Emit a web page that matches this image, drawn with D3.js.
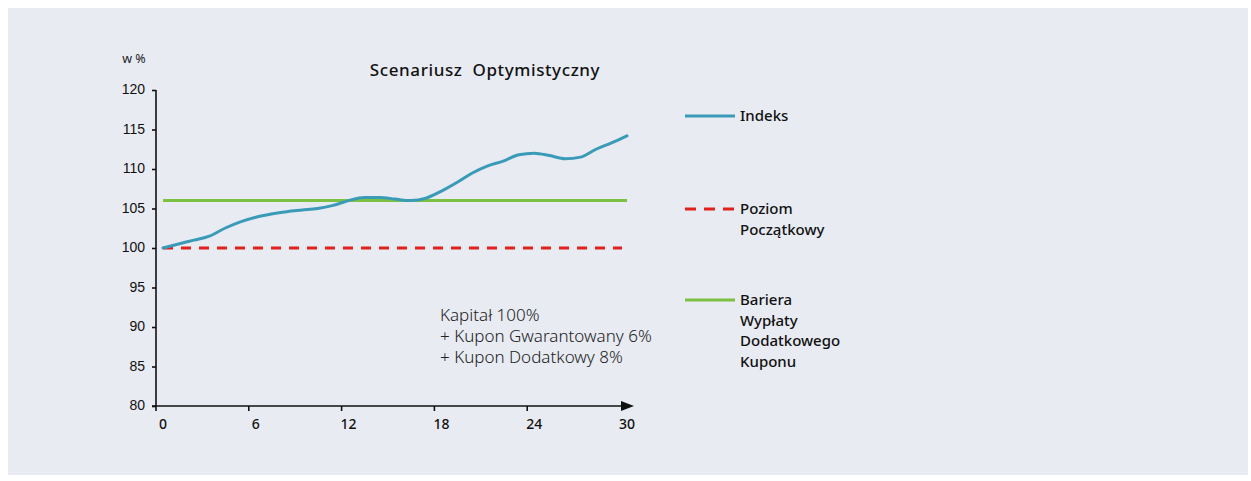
<!DOCTYPE html>
<html>
<head>
<meta charset="utf-8">
<script src="https://cdn.jsdelivr.net/npm/d3@7"></script>
<style>
  body { margin: 0; background: #ffffff; }
  svg { display: block; font-family: "Noto Sans", "Open Sans", sans-serif; }
</style>
</head>
<body>
<svg id="chart" width="1251" height="481"></svg>
<script>
// months 0..30
const months = d3.range(0, 31)
// index level, w %
const indexValues = [100.0, 100.5, 101.0, 101.5, 102.5, 103.3, 103.9, 104.3, 104.6, 104.8,
  105.0, 105.4, 106.0, 106.4, 106.4, 106.2, 106.0, 106.3, 107.2, 108.3,
  109.5, 110.4, 111.0, 111.8, 112.0, 111.7, 111.3, 111.5, 112.5, 113.3, 114.2]
const startLevel = 100
const barrierLevel = 106
const xTicks = [0, 6, 12, 18, 24, 30]
const yTicks = [80, 85, 90, 95, 100, 105, 110, 115, 120]
const legendItems = [
  { key: 'index', lines: ['Indeks'] },
  { key: 'start', lines: ['Poziom', 'Początkowy'] },
  { key: 'barrier', lines: ['Bariera', 'Wypłaty', 'Dodatkowego', 'Kuponu'] }
]
const noteLines = ['Kapitał 100%', '+ Kupon Gwarantowany 6%', '+ Kupon Dodatkowy 8%']

const colours = { index: '#3a9bb9', start: '#e3201b', barrier: '#7dc143', axis: '#111111' }

const svg = d3.select('#chart')
svg.append('rect').attr('x', 8).attr('y', 8).attr('width', 1240).attr('height', 467).attr('fill', '#e8ebf2')

const x = d3.scaleLinear().domain([0, 30]).range([163, 627])
const y = d3.scaleLinear().domain([80, 120]).range([406, 90])
const axisX = 156

// y axis
const yAxis = svg.append('g').attr('transform', `translate(${axisX},0)`)
  .call(d3.axisLeft(y).tickValues(yTicks).tickSize(4).tickPadding(7))
yAxis.select('.domain').attr('d', `M0,${y(120)}V${y(80)}`).attr('stroke', colours.axis).attr('stroke-width', 1.6)
yAxis.selectAll('.tick line').attr('stroke', colours.axis).attr('stroke-width', 1.6)
yAxis.selectAll('.tick text').attr('font-size', 14).attr('fill', '#111').attr('font-weight', 500).attr('dy', '0.28em')

// x axis: ticks sit one step-offset left of the labels
const xAxis = svg.append('g').attr('transform', `translate(0,${y(80)})`)
xAxis.append('line').attr('x1', axisX - 4).attr('x2', 623).attr('stroke', colours.axis).attr('stroke-width', 1.6)
xAxis.append('path').attr('d', 'M621,-5L634,0L621,5Z').attr('fill', colours.axis)
xAxis.selectAll('.xt').data(xTicks.slice(0, -1)).enter().append('line')
  .attr('x1', d => x(d) - 7).attr('x2', d => x(d) - 7).attr('y1', 0).attr('y2', 5)
  .attr('stroke', colours.axis).attr('stroke-width', 1.6)
xAxis.selectAll('.xl').data(xTicks).enter().append('text')
  .attr('x', d => x(d)).attr('y', 23).attr('text-anchor', 'middle')
  .attr('font-size', 14).attr('font-weight', 500).attr('fill', '#111').text(d => d)

// reference lines
svg.append('line').attr('x1', x(0)).attr('x2', x(30)).attr('y1', y(barrierLevel)).attr('y2', y(barrierLevel))
  .attr('stroke', colours.barrier).attr('stroke-width', 3)
svg.append('line').attr('x1', x(0)).attr('x2', x(30) - 5).attr('y1', y(startLevel)).attr('y2', y(startLevel))
  .attr('stroke', colours.start).attr('stroke-width', 2.8).attr('stroke-dasharray', '10,8')

// index line
const line = d3.line().x((d, i) => x(months[i])).y(d => y(d)).curve(d3.curveMonotoneX)
svg.append('path').datum(indexValues).attr('d', line)
  .attr('fill', 'none').attr('stroke', colours.index).attr('stroke-width', 3).attr('stroke-linecap', 'round')

// titles
svg.append('text').attr('x', 485).attr('y', 76).attr('text-anchor', 'middle')
  .attr('font-size', 17).attr('font-weight', 500).attr('letter-spacing', 0.6).attr('fill', '#111')
  .attr('xml:space', 'preserve').text('Scenariusz  Optymistyczny')
svg.append('text').attr('x', 134).attr('y', 63).attr('text-anchor', 'middle')
  .attr('font-size', 12.5).attr('fill', '#222').text('w %')

// note
svg.append('g').selectAll('text').data(noteLines).enter().append('text')
  .attr('x', 440).attr('y', (d, i) => 321 + i * 21)
  .attr('font-size', 17).attr('font-weight', 300).attr('fill', '#222').text(d => d)

// legend
const legendY = { index: 116, start: 209, barrier: 300 }
const legend = svg.append('g')
legendItems.forEach(item => {
  const ly = legendY[item.key]
  const l = legend.append('line').attr('x1', 685).attr('x2', 735).attr('y1', ly).attr('y2', ly)
    .attr('stroke', colours[item.key]).attr('stroke-width', item.key === 'start' ? 2.8 : 3)
  if (item.key === 'start') l.attr('stroke-dasharray', '11,8')
  legend.selectAll(null).data(item.lines).enter().append('text')
    .attr('x', 740).attr('y', (d, i) => ly + 5 + i * 20.7)
    .attr('font-size', 15).attr('font-weight', 500).attr('fill', '#111').text(d => d)
})
</script>
</body>
</html>
